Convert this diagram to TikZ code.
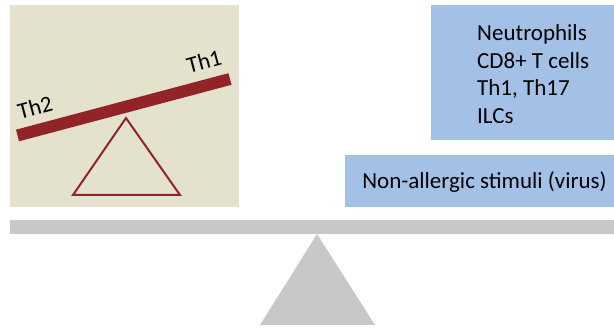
\documentclass[tikz,border=0pt]{standalone}
\usepackage{fontspec}
\setmainfont{Carlito}
\definecolor{beige}{HTML}{E4E1CD}
\definecolor{darkred}{HTML}{922428}
\definecolor{lblue}{HTML}{A3C1E6}
\definecolor{lgray}{HTML}{C8C8C8}
\tikzset{lbl/.style={inner sep=0pt, font=\fontsize{23}{27.5}\selectfont, text=black}}
\begin{document}
\begin{tikzpicture}[x=1pt,y=-1pt]
\useasboundingbox (0,0) rectangle (614,331);
% inset panel
\fill[beige] (10,5) rectangle (239,207);
\draw[darkred, line width=12pt] (17.5,135.5) -- (230,79);
\draw[darkred, line width=2pt, line join=miter] (126,118) -- (180,195) -- (73,195) -- cycle;
\node[lbl, rotate=15] (th2) at (35,107) {Th2};
\node[lbl, rotate=15] (th1) at (204,61) {Th1};
% blue boxes
\fill[lblue] (431,5) rectangle (614,140);
\node[lbl, anchor=west, align=left] (cells) at (477,74) {Neutrophils\\CD8+ T cells\\Th1, Th17\\ILCs};
\fill[lblue] (345,155) rectangle (614,207);
\node[lbl] (stim) at (484.5,182) {Non-allergic stimuli (virus)};
% main balance
\fill[lgray] (10,220) rectangle (614,234);
\fill[lgray] (317,234) -- (375,325) -- (260,325) -- cycle;
\end{tikzpicture}
\end{document}
